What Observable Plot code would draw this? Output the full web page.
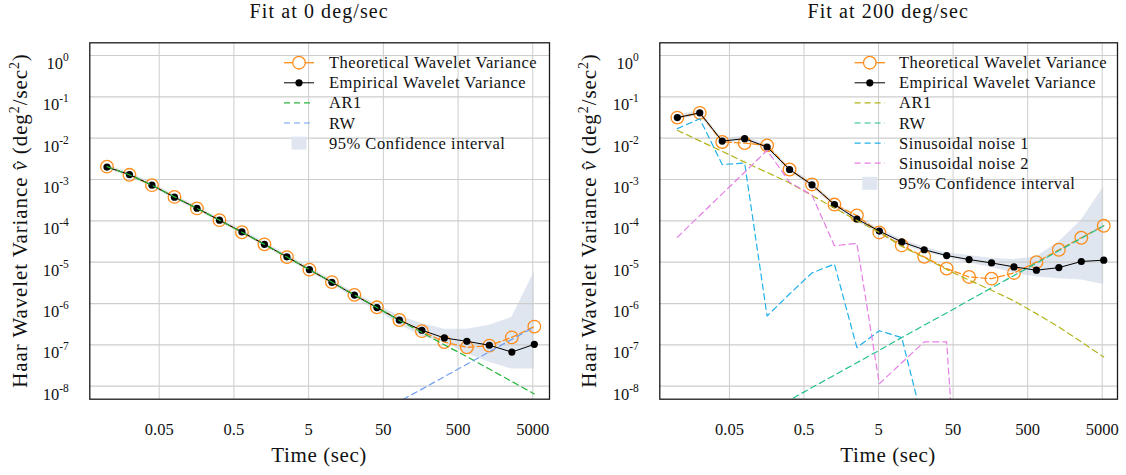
<!DOCTYPE html>
<html><head><meta charset="utf-8">
<script src="https://cdn.jsdelivr.net/npm/d3@7"></script>
<script src="https://cdn.jsdelivr.net/npm/@observablehq/plot@0.6"></script>
<style>
html,body{margin:0;padding:0;background:#fff;}
#wrap{display:flex;width:1126px;height:475px;overflow:hidden;}
#wrap svg{display:block;flex:none;}
</style></head><body><div id="wrap"></div>
<script>
// ---------- data ----------
const tau = [0.01, 0.02, 0.04, 0.08, 0.16, 0.32, 0.64, 1.28, 2.56, 5.12, 10.24, 20.48, 40.96, 81.92, 163.84, 327.68, 655.36, 1310.72, 2621.44, 5242.88];

const xTicks = [0.05, 0.5, 5, 50, 500, 5000];
const xTickLabels = ["0.05", "0.5", "5", "50", "500", "5000"];
const yTicks = [1, 1e-1, 1e-2, 1e-3, 1e-4, 1e-5, 1e-6, 1e-7, 1e-8];
const yTickExp = ["0", "-1", "-2", "-3", "-4", "-5", "-6", "-7", "-8"];

const titles = ["Fit at 0 deg/sec", "Fit at 200 deg/sec"];
const xLabel = "Time (sec)";

// Panel 1: 0 deg/sec
const empL = [2.0e-3, 1.32e-3, 7.3e-4, 3.74e-4, 2.02e-4, 1.04e-4, 5.4e-5, 2.7e-5, 1.35e-5, 6.6e-6, 3.26e-6, 1.6e-6, 8.0e-7, 3.96e-7, 2.26e-7, 1.47e-7, 1.22e-7, 9.8e-8, 6.7e-8, 1.03e-7];
const theoL = [2.05e-3, 1.3e-3, 7.3e-4, 3.8e-4, 2.0e-4, 1.04e-4, 5.3e-5, 2.7e-5, 1.33e-5, 6.6e-6, 3.3e-6, 1.62e-6, 8.1e-7, 4.0e-7, 2.15e-7, 1.17e-7, 8.7e-8, 9.6e-8, 1.52e-7, 2.77e-7];
const ar1L = [2.05e-3, 1.3e-3, 7.3e-4, 3.8e-4, 2.0e-4, 1.04e-4, 5.3e-5, 2.7e-5, 1.33e-5, 6.6e-6, 3.3e-6, 1.62e-6, 8.0e-7, 3.9e-7, 2.0e-7, 1.0e-7, 5.2e-8, 2.6e-8, 1.3e-8, 6.5e-9];
const rwL = [null, null, null, null, null, null, null, null, null, null, null, null, 2.1e-9, 4.3e-9, 8.5e-9, 1.7e-8, 3.4e-8, 6.8e-8, 1.36e-7, 2.7e-7];
const ciLoL = [1.8e-3, 1.18e-3, 6.5e-4, 3.3e-4, 1.8e-4, 9.2e-5, 4.8e-5, 2.4e-5, 1.2e-5, 5.8e-6, 2.85e-6, 1.38e-6, 6.7e-7, 3.1e-7, 1.6e-7, 1.15e-7, 6.1e-8, 3.8e-8, 2.6e-8, 2.6e-8];
const ciHiL = [2.25e-3, 1.48e-3, 8.2e-4, 4.2e-4, 2.27e-4, 1.17e-4, 6.1e-5, 3.05e-5, 1.53e-5, 7.5e-6, 3.7e-6, 1.85e-6, 9.5e-7, 5.0e-7, 3.3e-7, 2.4e-7, 2.4e-7, 3.0e-7, 4.6e-7, 5.9e-6];

// Panel 2: 200 deg/sec
const empR = [3.15e-2, 4.1e-2, 8.5e-3, 9.75e-3, 6.1e-3, 1.75e-3, 7.45e-4, 2.48e-4, 1.11e-4, 5.65e-5, 3.1e-5, 2.0e-5, 1.45e-5, 1.16e-5, 9.6e-6, 7.7e-6, 6.4e-6, 7.4e-6, 1.04e-5, 1.12e-5];
const theoR = [3.15e-2, 4.1e-2, 8.1e-3, 7.6e-3, 6.7e-3, 1.75e-3, 7.6e-4, 2.48e-4, 1.35e-4, 5.25e-5, 2.55e-5, 1.35e-5, 7.0e-6, 4.4e-6, 4.0e-6, 5.5e-6, 1.0e-5, 2.0e-5, 3.9e-5, 7.6e-5];
const ar1R = [1.55e-2, 8.6e-3, 4.8e-3, 2.64e-3, 1.48e-3, 8.3e-4, 4.1e-4, 2.04e-4, 1.02e-4, 5.25e-5, 2.4e-5, 1.3e-5, 6.65e-6, 3.67e-6, 2.1e-6, 1.16e-6, 5.7e-7, 2.7e-7, 1.18e-7, 5.1e-8];
const rwR = [null, null, null, null, 2.3e-9, 4.6e-9, 9.3e-9, 1.85e-8, 3.7e-8, 7.4e-8, 1.5e-7, 3.0e-7, 5.9e-7, 1.2e-6, 2.4e-6, 4.75e-6, 9.5e-6, 1.9e-5, 3.8e-5, 7.6e-5];
const sin1R = [1.7e-2, 2.95e-2, 2.3e-3, 2.5e-3, 5.0e-7, 1.7e-6, 5.5e-6, 9.0e-6, 8.6e-8, 2.2e-7, 1.5e-7, 1e-9, null, null, null, null, null, null, null, null];
const sin2R = [4.0e-5, 1.35e-4, 4.5e-4, 1.5e-3, 5.1e-3, 8.6e-4, 4.2e-4, 2.5e-5, 2.86e-5, 1.15e-8, 3.7e-8, 1.18e-7, 1.18e-7, 1e-15, null, null, null, null, null, null];
const ciLoR = [2.75e-2, 3.6e-2, 7.4e-3, 8.5e-3, 5.3e-3, 1.52e-3, 6.5e-4, 2.16e-4, 9.7e-5, 4.9e-5, 2.7e-5, 1.75e-5, 1.3e-5, 9.6e-6, 7.4e-6, 5.5e-6, 4.4e-6, 4.0e-6, 3.7e-6, 2.9e-6];
const ciHiR = [3.6e-2, 4.7e-2, 9.8e-3, 1.12e-2, 7.0e-3, 2.0e-3, 8.6e-4, 2.85e-4, 1.28e-4, 6.5e-5, 3.6e-5, 2.3e-5, 1.68e-5, 1.45e-5, 1.23e-5, 1.16e-5, 1.35e-5, 3.1e-5, 1.04e-4, 6.65e-4];

const legendTheo = "Theoretical Wavelet Variance";
const legendEmp = "Empirical Wavelet Variance";
const legendCI = "95% Confidence interval";

// ---------- styling ----------
const FONT = "'Liberation Serif', 'Times New Roman', serif";
const ORANGE = "#ff8c1a";
const CI_FILL = "#dfe6ef";
const GRID = "#cdcdcd";

const panels = [
  {
    title: titles[0], emp: empL, theo: theoL, lo: ciLoL, hi: ciHiL,
    comps: [
      {name: "AR1", values: ar1L, color: "#27b53d"},
      {name: "RW", values: rwL, color: "#6f9ef2"}
    ],
    marginLeft: 89.3, marginRight: 14, xDomain: [0.00589, 8366],
    yLabelX: 27, legLine: [284, 314], legText: 329
  },
  {
    title: titles[1], emp: empR, theo: theoR, lo: ciLoR, hi: ciHiR,
    comps: [
      {name: "AR1", values: ar1R, color: "#b3b31c"},
      {name: "RW", values: rwR, color: "#22c08b"},
      {name: "Sinusoidal noise 1", values: sin1R, color: "#21b1e8"},
      {name: "Sinusoidal noise 2", values: sin2R, color: "#e67de6"}
    ],
    marginLeft: 96.3, marginRight: 9, xDomain: [0.00582, 8016],
    yLabelX: 33, legLine: [291.6, 322], legText: 336
  }
];

const W = 563, H = 475, MT = 42.3, MB = 76.3;

function makePanel(p) {
  const rows = tau.map((t, i) => ({tau: t, theo: p.theo[i], emp: p.emp[i], lo: p.lo[i], hi: p.hi[i]}));
  const comps = p.comps.map(c => ({...c, data: tau.map((t, i) => ({tau: t, v: c.values[i]})).filter(d => d.v != null)}));
  const svg = Plot.plot({
    width: W, height: H,
    marginLeft: p.marginLeft, marginRight: p.marginRight, marginTop: MT, marginBottom: MB,
    style: {fontFamily: FONT, fontSize: "16.5px", color: "#111", background: "#fff"},
    x: {type: "log", domain: p.xDomain, axis: null},
    y: {type: "log", domain: [4.85e-9, 2.03]},
    marks: [
      Plot.areaY(rows, {x: "tau", y1: "lo", y2: "hi", fill: CI_FILL, clip: true}),
      Plot.gridX(xTicks, {stroke: GRID, strokeOpacity: 1, strokeWidth: 1}),
      Plot.gridY(yTicks, {stroke: GRID, strokeOpacity: 1, strokeWidth: 1.2}),
      Plot.text(xTicks, {x: d => d, text: d => xTickLabels[xTicks.indexOf(d)], frameAnchor: "bottom", lineAnchor: "top", dy: 24, fill: "#111", fontSize: 16.5}),
      Plot.axisY(yTicks, {tickSize: 0, tickPadding: 21, label: null, tickFormat: d => "10^" + yTickExp[yTicks.indexOf(d)]}),
      Plot.line(rows, {x: "tau", y: "theo", stroke: ORANGE, strokeWidth: 1.3, strokeDasharray: "6,3", clip: true}),
      Plot.dot(rows, {x: "tau", y: "theo", r: 6.3, stroke: ORANGE, strokeWidth: 1.3, fill: "none"}),
      Plot.line(rows, {x: "tau", y: "emp", stroke: "#000", strokeWidth: 1}),
      Plot.dot(rows, {x: "tau", y: "emp", r: 3.6, fill: "#000", stroke: "none"}),
      ...comps.map(c => Plot.line(c.data, {x: "tau", y: "v", stroke: c.color, strokeWidth: 1.2, strokeDasharray: "6,4", clip: true})),
      Plot.frame({stroke: "#1a1a1a", strokeWidth: 1.3})
    ]
  });

  const s = d3.select(svg);
  // superscript tick labels
  s.selectAll('g[aria-label="y-axis tick label"] text').each(function() {
    const parts = this.textContent.split("^");
    const t = d3.select(this);
    t.text(null).attr("dy", "0.5em");
    t.append("tspan").text(parts[0]);
    t.append("tspan").attr("dy", -8).attr("font-size", "11.5px").text(parts[1]);
  });

  const g = s.append("g").attr("font-family", FONT).attr("fill", "#111");
  const frameL = p.marginLeft, frameR = W - p.marginRight;
  const cx = (frameL + frameR) / 2;
  // title
  g.append("text").attr("x", cx).attr("y", 18).attr("text-anchor", "middle")
    .attr("font-size", 20).attr("letter-spacing", 1.1).text(p.title);
  // x label
  g.append("text").attr("x", cx).attr("y", 462).attr("text-anchor", "middle")
    .attr("font-size", 21).attr("letter-spacing", 0.6).text(xLabel);
  // y label
  const yl = g.append("text").attr("transform", `translate(${p.yLabelX},${(MT + H - MB) / 2}) rotate(-90)`)
    .attr("text-anchor", "middle").attr("font-size", 21).attr("letter-spacing", 0.9);
  yl.append("tspan").text("Haar Wavelet Variance ");
  yl.append("tspan").attr("font-style", "italic").text("\u03BD");
  yl.append("tspan").attr("dx", -9.2).attr("dy", 1).text("\u02C6");
  yl.append("tspan").attr("dx", 1.2).attr("dy", -1).text(" (deg");
  yl.append("tspan").attr("dy", -8).attr("font-size", 14).text("2");
  yl.append("tspan").attr("dy", 8).text("/sec");
  yl.append("tspan").attr("dy", -8).attr("font-size", 14).text("2");
  yl.append("tspan").attr("dy", 8).text(")");

  // legend
  const entries = [
    {type: "theo", label: legendTheo},
    {type: "emp", label: legendEmp},
    ...p.comps.map(c => ({type: "comp", label: c.name, color: c.color})),
    {type: "ci", label: legendCI}
  ];
  const [lx1, lx2] = p.legLine, lxm = (lx1 + lx2) / 2;
  const lg = g.append("g").attr("text-anchor", "start");
  entries.forEach((e, i) => {
    const y = 62.7 + 20.1 * i;
    if (e.type === "theo") {
      lg.append("line").attr("x1", lx1).attr("x2", lx2).attr("y1", y).attr("y2", y).attr("stroke", ORANGE).attr("stroke-width", 1.3);
      lg.append("circle").attr("cx", lxm).attr("cy", y).attr("r", 6.3).attr("fill", "#fff").attr("stroke", ORANGE).attr("stroke-width", 1.3);
    } else if (e.type === "emp") {
      lg.append("line").attr("x1", lx1).attr("x2", lx2).attr("y1", y).attr("y2", y).attr("stroke", "#000").attr("stroke-width", 1);
      lg.append("circle").attr("cx", lxm).attr("cy", y).attr("r", 3.6).attr("fill", "#000");
    } else if (e.type === "comp") {
      lg.append("line").attr("x1", lx1).attr("x2", lx2).attr("y1", y).attr("y2", y).attr("stroke", e.color).attr("stroke-width", 1.2).attr("stroke-dasharray", "6,4");
    } else {
      lg.append("rect").attr("x", lxm - 7.5).attr("y", y - 6.5).attr("width", 15).attr("height", 13).attr("fill", CI_FILL);
    }
    lg.append("text").attr("x", p.legText).attr("y", y + 5.5).attr("font-size", 16.5).attr("letter-spacing", 0.5).text(e.label);
  });
  return svg;
}

const wrap = document.getElementById("wrap");
panels.forEach(p => wrap.appendChild(makePanel(p)));
</script>
</body></html>
